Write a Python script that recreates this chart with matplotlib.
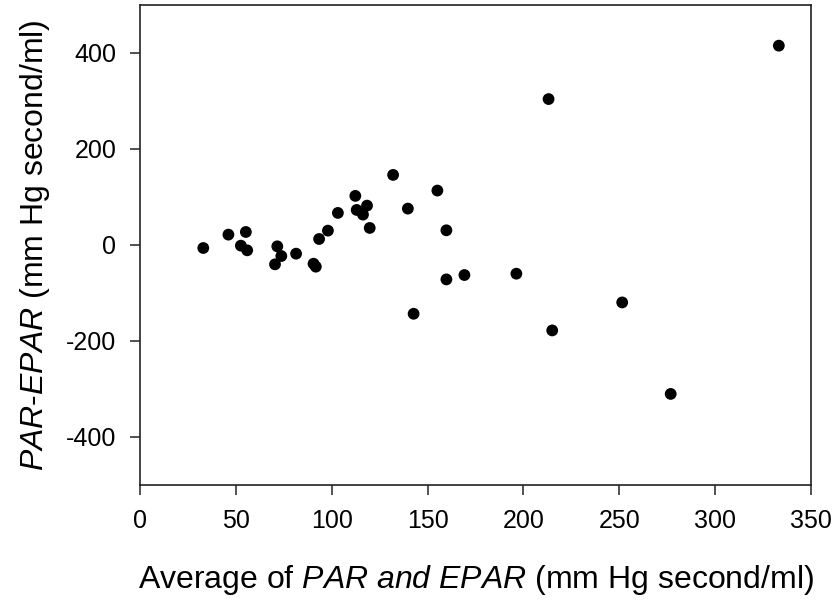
import matplotlib
matplotlib.use("Agg")
import matplotlib.pyplot as plt

# Data: average of PAR and EPAR (x) vs PAR-EPAR difference (y)
avg_par_epar = [333.2, 213.1, 132.0, 155.1, 112.3, 118.4, 113.0, 116.3, 103.2, 139.7,
                119.8, 159.8, 98.0, 93.4, 55.2, 46.1, 33.0, 52.6, 55.9, 71.6,
                73.7, 70.4, 81.4, 90.5, 91.7, 159.8, 169.2, 196.3, 142.7, 215.0,
                251.5, 276.8]
diff_par_epar = [415.3, 304.0, 146.0, 113.4, 102.3, 82.0, 73.0, 63.3, 66.8, 75.8,
                 35.5, 30.6, 29.9, 12.5, 27.1, 21.6, -6.3, -1.4, -11.1, -2.8,
                 -23.0, -40.3, -18.1, -39.0, -45.2, -71.7, -62.6, -59.8, -143.3, -178.0,
                 -119.7, -310.3]
x_ticks = [0, 50, 100, 150, 200, 250, 300, 350]
y_ticks = [-400, -200, 0, 200, 400]

plt.rcParams['font.family'] = ['Liberation Sans', 'DejaVu Sans']
plt.rcParams['mathtext.fontset'] = 'custom'
plt.rcParams['mathtext.rm'] = 'Liberation Sans'
plt.rcParams['mathtext.it'] = 'Liberation Sans:italic'
plt.rcParams['axes.unicode_minus'] = False

fig = plt.figure(figsize=(8.35, 6.02), dpi=100)
ax = fig.add_axes([0.1677, 0.1944, 0.8036, 0.7973])

ax.scatter(avg_par_epar, diff_par_epar, s=72, color='black', edgecolors='none', zorder=3)

ax.set_xlim(0, 350)
ax.set_ylim(-500, 500)
ax.set_xticks(x_ticks)
ax.set_yticks(y_ticks)
ax.tick_params(axis='both', direction='out', length=7, width=1.1, color='#222222',
               labelsize=18, top=False, right=False)
ax.tick_params(axis='x', pad=10)
ax.tick_params(axis='y', pad=10)
for sp in ax.spines.values():
    sp.set_color('#222222')
    sp.set_linewidth(1.2)

ax.set_xlabel(r"Average of $\mathit{PAR}$ $\mathit{and}$ $\mathit{EPAR}$ (mm Hg second/ml)",
              fontsize=23, labelpad=22)
ax.set_ylabel(r"$\mathit{PAR}$-$\mathit{EPAR}$ (mm Hg second/ml)", fontsize=23, labelpad=10)

fig.savefig("out.png", dpi=100)
